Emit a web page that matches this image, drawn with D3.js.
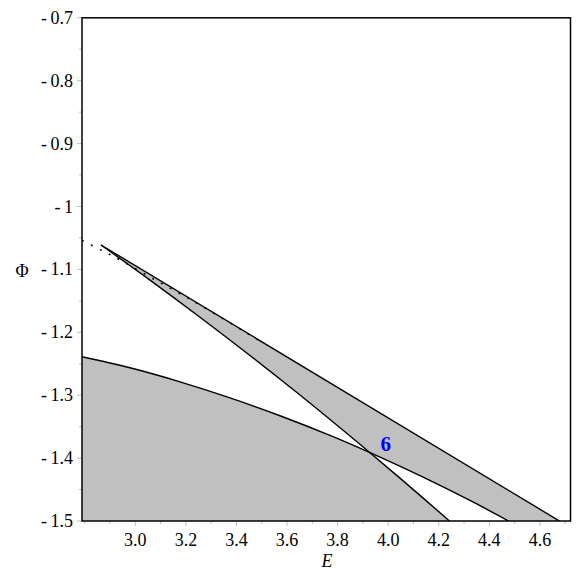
<!DOCTYPE html>
<html>
<head>
<meta charset="utf-8">
<script src="https://cdn.jsdelivr.net/npm/d3@7"></script>
<style>
  body { margin: 0; background: #fff; }
  text { font-family: "Liberation Serif", "Times New Roman", serif; }
</style>
</head>
<body>
<div id="chart"></div>
<script>
// E (x) and Phi (y) points
var upperLine = [[2.8644, -1.0612], [4.6773, -1.5]];
var steepCurve = [[2.8644, -1.0612], [3.0581, -1.1170], [3.2558, -1.1760], [3.4535, -1.2369],
                  [3.6512, -1.2998], [3.8489, -1.3649], [3.9280, -1.3914], [4.0466, -1.4318], [4.2424, -1.5]];
var lowerCurve = [[2.7892, -1.2388], [2.9790, -1.2564], [3.1768, -1.2787], [3.3745, -1.3042],
                  [3.5722, -1.3327], [3.7699, -1.3640], [3.9280, -1.3914], [4.1257, -1.4280],
                  [4.3234, -1.4674], [4.4761, -1.5]];
var dottedCurve = [[2.7892, -1.0537], [2.8711, -1.0707], [2.9423, -1.0855], [3.0581, -1.1121],
                   [3.1898, -1.1414], [3.3349, -1.1755], [3.4931, -1.2138]];
var xMajor = [3.0, 3.2, 3.4, 3.6, 3.8, 4.0, 4.2, 4.4, 4.6];
var xMinor = [2.8, 2.9, 3.1, 3.3, 3.5, 3.7, 3.9, 4.1, 4.3, 4.5, 4.7];
var yMajor = [-0.7, -0.8, -0.9, -1, -1.1, -1.2, -1.3, -1.4, -1.5];
var yMinor = [-0.75, -0.85, -0.95, -1.05, -1.15, -1.25, -1.35, -1.45];
var regionLabel = {E: 3.99, Phi: -1.378, text: "6"};

var width = 581, height = 581;
var mLeft = 82, mRight = 570.5, mTop = 17.8, mBottom = 521;

var svg = d3.select("#chart").append("svg")
    .attr("width", width)
    .attr("height", height);

var x = d3.scaleLinear().domain([2.7892, 4.7209]).range([mLeft, mRight]);
var y = d3.scaleLinear().domain([-1.5, -0.7]).range([mBottom, mTop]);

svg.append("clipPath").attr("id", "plotclip")
  .append("rect")
    .attr("x", mLeft).attr("y", mTop)
    .attr("width", mRight - mLeft).attr("height", mBottom - mTop);

var line = d3.line()
    .x(function(d){ return x(d[0]); })
    .y(function(d){ return y(d[1]); })
    .curve(d3.curveCatmullRom);

var straight = d3.line()
    .x(function(d){ return x(d[0]); })
    .y(function(d){ return y(d[1]); });

// band between the upper line and the steep curve
var band = straight(upperLine)
    + straight([upperLine[1], steepCurve[steepCurve.length - 1]]).replace("M", "L")
    + line(steepCurve.slice().reverse()).replace("M", "L") + "Z";

// area below the lower curve
var lower = line(lowerCurve)
    + straight([lowerCurve[lowerCurve.length - 1], [2.7892, -1.5], lowerCurve[0]]).replace("M", "L") + "Z";

var plot = svg.append("g").attr("clip-path", "url(#plotclip)");

// the two regions overlap as even-odd
plot.append("path")
    .attr("d", band + lower)
    .attr("fill", "#c0c0c0")
    .attr("fill-rule", "evenodd")
    .attr("stroke", "none");

[upperLine, steepCurve, lowerCurve].forEach(function(pts){
  plot.append("path")
    .attr("d", pts.length > 2 ? line(pts) : straight(pts))
    .attr("fill", "none")
    .attr("stroke", "#000")
    .attr("stroke-width", 1.4);
});

plot.append("path")
    .attr("d", line(dottedCurve))
    .attr("fill", "none")
    .attr("stroke", "#000")
    .attr("stroke-width", 1.5)
    .attr("stroke-dasharray", "2,8");

svg.append("text")
    .attr("x", x(regionLabel.E))
    .attr("y", y(regionLabel.Phi) + 7)
    .attr("text-anchor", "middle")
    .attr("font-size", "21px")
    .attr("font-weight", "bold")
    .attr("fill", "#0000ff")
    .text(regionLabel.text);

// ticks
var tickCol = "#bdbdbd";
svg.selectAll("xMajorTick").data(xMajor).enter().append("line")
    .attr("x1", function(d){ return x(d); }).attr("x2", function(d){ return x(d); })
    .attr("y1", mBottom).attr("y2", mBottom + 5)
    .attr("stroke", tickCol).attr("stroke-width", 1);
svg.selectAll("xMinorTick").data(xMinor).enter().append("line")
    .attr("x1", function(d){ return x(d); }).attr("x2", function(d){ return x(d); })
    .attr("y1", mBottom).attr("y2", mBottom + 3)
    .attr("stroke", tickCol).attr("stroke-width", 1);
svg.selectAll("yMajorTick").data(yMajor).enter().append("line")
    .attr("y1", function(d){ return y(d); }).attr("y2", function(d){ return y(d); })
    .attr("x1", mLeft - 5).attr("x2", mLeft)
    .attr("stroke", tickCol).attr("stroke-width", 1);
svg.selectAll("yMinorTick").data(yMinor).enter().append("line")
    .attr("y1", function(d){ return y(d); }).attr("y2", function(d){ return y(d); })
    .attr("x1", mLeft - 3).attr("x2", mLeft)
    .attr("stroke", tickCol).attr("stroke-width", 1);

// tick labels
svg.selectAll("xLabel").data(xMajor).enter().append("text")
    .attr("x", function(d){ return x(d); })
    .attr("y", 546)
    .attr("text-anchor", "middle")
    .attr("font-size", "18px")
    .text(function(d){ return d.toFixed(1); });

svg.selectAll("yLabel").data(yMajor).enter().append("text")
    .attr("x", 73)
    .attr("y", function(d){ return y(d) + 6; })
    .attr("text-anchor", "end")
    .attr("font-size", "18px")
    .text(function(d){ return "-\u2009" + String(Math.abs(d)); });

// frame
svg.append("rect")
    .attr("x", mLeft).attr("y", mTop)
    .attr("width", mRight - mLeft).attr("height", mBottom - mTop)
    .attr("fill", "none")
    .attr("stroke", "#000")
    .attr("stroke-width", 1.5);

// axis titles
svg.append("text")
    .attr("x", 327).attr("y", 567)
    .attr("text-anchor", "middle")
    .attr("font-size", "18px")
    .attr("font-style", "italic")
    .text("E");
svg.append("text")
    .attr("x", 22).attr("y", 277)
    .attr("text-anchor", "middle")
    .attr("font-size", "18px")
    .text("\u03A6");
</script>
</body>
</html>
